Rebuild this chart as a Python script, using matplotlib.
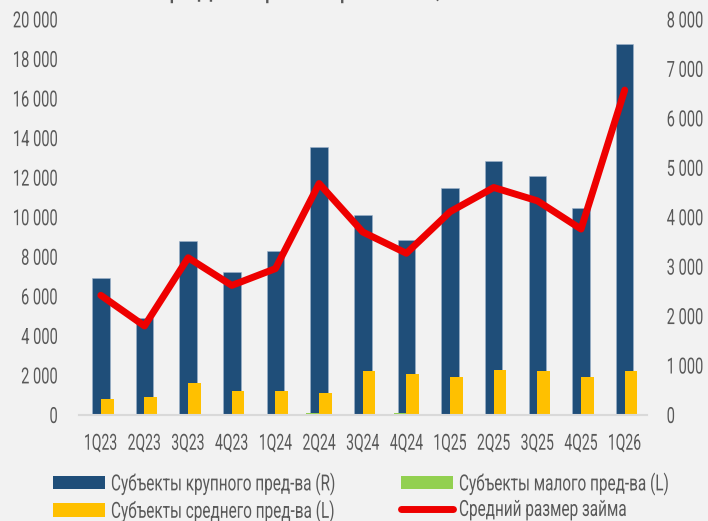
import numpy as np
import matplotlib.pyplot as plt
from matplotlib.patches import Patch
from matplotlib.lines import Line2D
from matplotlib.ticker import FuncFormatter
from matplotlib.patheffects import AbstractPathEffect
from matplotlib.transforms import Affine2D

plt.rcParams['font.family'] = ['Roboto', 'DejaVu Sans']

# Data
quarters = ["1Q23", "2Q23", "3Q23", "4Q23", "1Q24", "2Q24", "3Q24",
            "4Q24", "1Q25", "2Q25", "3Q25", "4Q25", "1Q26"]
large_r = [2760, 1970, 3520, 2900, 3320, 5420, 4040, 3530, 4600, 5140, 4830, 4180, 7500]   # right axis
small_l = [40, 40, 60, 60, 60, 100, 70, 100, 60, 40, 40, 40, 30]                            # left axis
medium_l = [790, 910, 1620, 1200, 1210, 1130, 2220, 2070, 1900, 2290, 2220, 1920, 2220]      # left axis
avg_loan = [2420, 1800, 3180, 2620, 2960, 4680, 3700, 3270, 4110, 4600, 4330, 3760, 6570]  # right axis

labels = ["Субъекты крупного пред-ва (R)", "Субъекты среднего пред-ва (L)",
          "Субъекты малого пред-ва (L)", "Средний размер займа"]

c_large = '#1F4E79'
c_small = '#92D050'
c_medium = '#FFC000'
c_line = '#EE0000'
c_text = '#595959'
bg = '#F2F2F2'


class Squeeze(AbstractPathEffect):
    """Draw text narrower (the reference uses a condensed face)."""

    def __init__(self, sx=0.65, anchor=0.0):
        super().__init__()
        self.sx = sx
        self.anchor = anchor  # 0 left, 0.5 centre, 1 right

    def draw_path(self, renderer, gc, tpath, affine, rgbFace=None):
        w = tpath.get_extents().x1
        shift = self.anchor * (1 - self.sx) * w
        t = Affine2D().scale(self.sx, 1).translate(shift, 0) + affine
        renderer.draw_path(gc, tpath, t, rgbFace)


fig = plt.figure(figsize=(7.08, 5.21), dpi=100, facecolor=bg)
ax = fig.add_axes([0.1116, 0.2035, 0.8016, 0.7593])
ax2 = ax.twinx()

x = np.arange(len(quarters))

# right axis: large companies and average loan size (drawn behind)
ax2.bar(x, large_r, width=0.40, color=c_large, edgecolor='#9FB4CB', linewidth=0.4)
ax2.plot(x, avg_loan, color=c_line, linewidth=5, solid_joinstyle='round',
         solid_capstyle='round')

# left axis: small and medium companies (in front)
ax.bar(x - 0.29, small_l, width=0.29, align='edge', color=c_small)
ax.bar(x, medium_l, width=0.29, align='edge', color=c_medium)

ax.set_zorder(2)
ax2.set_zorder(1)
ax.patch.set_visible(False)
ax2.patch.set_facecolor(bg)

ax.set_xlim(-0.5, len(quarters) - 0.5)
ax.set_ylim(0, 20000)
ax2.set_ylim(0, 8000)
ax.set_yticks(np.arange(0, 20001, 2000))
ax2.set_yticks(np.arange(0, 8001, 1000))

fmt = FuncFormatter(lambda v, p: f"{int(v):,}".replace(",", " "))
ax.yaxis.set_major_formatter(fmt)
ax2.yaxis.set_major_formatter(fmt)

ax.set_xticks(x)
ax.set_xticklabels(quarters)

for a in (ax, ax2):
    for s in a.spines.values():
        s.set_visible(False)
ax.spines['bottom'].set_visible(True)
ax.spines['bottom'].set_color('#D9D9D9')
ax.spines['bottom'].set_linewidth(1.5)

ax.tick_params(axis='x', length=0, pad=13.5, labelsize=16, labelcolor=c_text)
ax.tick_params(axis='y', length=0, pad=15, labelsize=16, labelcolor=c_text)
ax2.tick_params(axis='y', length=0, pad=14.5, labelsize=16, labelcolor=c_text)

for lbl in ax.get_xticklabels():
    lbl.set_path_effects([Squeeze(0.63, 0.5)])
for lbl in ax.get_yticklabels():
    lbl.set_path_effects([Squeeze(0.66, 1.0)])
for lbl in ax2.get_yticklabels():
    lbl.set_path_effects([Squeeze(0.66, 0.0)])

# title, cut off by the top edge as in the reference (only descenders show)
title = fig.text(152 / 708, 1.0 + 3 / 521, "Средний размер займа, тыс. ₽", fontsize=22,
                 color=c_text, ha='left', va='baseline')
title.set_path_effects([Squeeze(0.85, 0.0)])

# legend in two separately placed columns
h_large = Patch(facecolor=c_large)
h_medium = Patch(facecolor=c_medium)
h_small = Patch(facecolor=c_small)
h_line = Line2D([], [], color=c_line, linewidth=5, solid_capstyle='round')

leg_kw = dict(frameon=False, fontsize=16, labelcolor=c_text, handlelength=2.34,
              handleheight=0.54, handletextpad=0.27, labelspacing=0.2,
              borderpad=0, borderaxespad=0, loc='upper left')
leg1 = fig.legend([h_large, h_medium], labels[:2],
                  bbox_to_anchor=(53 / 708, 1 - 472.5 / 521), **leg_kw)
leg2 = fig.legend([h_small, h_line], labels[2:],
                  bbox_to_anchor=(401 / 708, 1 - 472.5 / 521), **leg_kw)
for leg in (leg1, leg2):
    for t in leg.get_texts():
        t.set_path_effects([Squeeze(0.69, 0.0)])

fig.savefig("out.png", dpi=100, facecolor=bg)
